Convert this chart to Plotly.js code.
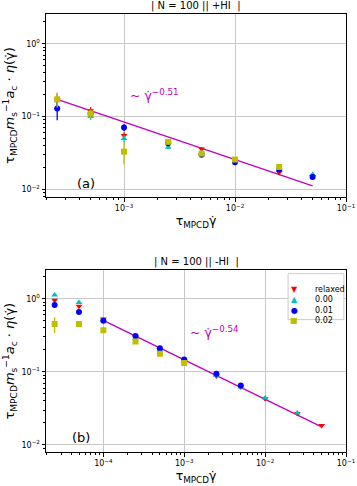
<!DOCTYPE html>
<html><head><meta charset="utf-8">
<script src="https://cdn.plot.ly/plotly-3.0.1.min.js"></script>
<style>body{margin:0;background:#fff}#plot{width:357px;height:486px}</style>
</head><body>
<div id="plot"></div>
<script>
// panel (a): +HI
const xA = [2.5e-4, 5e-4, 1e-3, 2.5e-3, 5e-3, 1e-2, 2.5e-2, 5e-2];
const aRelaxed = [0.17, 0.12, 0.055, 0.043, 0.036, 0.025, 0.017, 0.015];
const aRelaxedErr = [0.04, 0.015, 0.006, 0.003, 0.002, 0.001, 0.001, 0.001];
const a000 = [0.165, 0.10, 0.050, 0.038, 0.032, 0.025, 0.019, 0.016];
const a000Err = [0.03, 0.01, 0.006, 0.002, 0.002, 0.001, 0.001, 0.001];
const a001 = [0.129, 0.11, 0.071, 0.043, 0.030, 0.0235, 0.0187, 0.0148];
const a001Err = [0.04, 0.01, 0.008, 0.003, 0.002, 0.001, 0.001, 0.001];
const a002 = [0.173, 0.11, 0.033, 0.045, 0.031, 0.0257, 0.0203];
const a002Err = [0.04, 0.015, 0.011, 0.003, 0.002, 0.001, 0.001];
const fitAx = [2.5e-4, 5e-2];
const fitAy = [0.173, 0.0112];

// panel (b): -HI
const xB = [2.5e-5, 5e-5, 1e-4, 2.5e-4, 5e-4, 1e-3, 2.5e-3, 5e-3, 1e-2, 2.5e-2, 5e-2];
const bRelaxed = [0.95, 0.79, 0.53, 0.30, 0.20, 0.14, 0.088, 0.062, 0.043, 0.027, 0.0184];
const b000 = [1.12, 0.89, 0.51, 0.29, 0.20, 0.14, 0.09, 0.062, 0.044, 0.0274];
const b001 = [0.82, 0.66, 0.50, 0.31, 0.21, 0.147, 0.094, 0.065];
const b002 = [0.45, 0.45, 0.37, 0.26, 0.177, 0.132];
const b002Err = [0.11, 0.02, 0.02, 0.01, 0.01, 0.01];
const fitBx = [1e-4, 5e-2];
const fitBy = [0.505, 0.0177];

const seriesNames = ['relaxed', '0.00', '0.01', '0.02'];
const colors = ['#ff0000', '#00bfbf', '#0000ff', '#bfbf00'];
const symbols = ['triangle-down', 'triangle-up', 'circle', 'square'];
const legendGlyphs = ['▼', '▲', '●', '■'];
const magenta = '#bf00bf';

const yTickVals = [0.01, 0.1, 1];
const yTickText = ['10<sup>−2</sup>', '10<sup>−1</sup>', '10<sup>0</sup>'];
const xTickValsA = [1e-3, 1e-2, 1e-1];
const xTickTextA = ['10<sup>−3</sup>', '10<sup>−2</sup>', '10<sup>−1</sup>'];
const xTickValsB = [1e-4, 1e-3, 1e-2, 1e-1];
const xTickTextB = ['10<sup>−4</sup>', '10<sup>−3</sup>', '10<sup>−2</sup>', '10<sup>−1</sup>'];

const font = 'DejaVu Sans, sans-serif';

function pts(x, y, err, i, xa, ya) {
  return {
    x: x.slice(0, y.length), y: y, type: 'scatter', mode: 'markers',
    name: seriesNames[i], showlegend: false, xaxis: xa, yaxis: ya,
    marker: { color: colors[i], symbol: symbols[i], size: 6 },
    error_y: err ? { type: 'data', array: err, color: colors[i], width: 0, thickness: 1.3 } : { visible: false },
  };
}

const traces = [
  { x: fitAx, y: fitAy, type: 'scatter', mode: 'lines', line: { color: magenta, width: 1.3 }, showlegend: false, xaxis: 'x', yaxis: 'y' },
  pts(xA, aRelaxed, aRelaxedErr, 0, 'x', 'y'),
  pts(xA, a000, a000Err, 1, 'x', 'y'),
  pts(xA, a001, a001Err, 2, 'x', 'y'),
  pts(xA, a002, a002Err, 3, 'x', 'y'),
  { x: fitBx, y: fitBy, type: 'scatter', mode: 'lines', line: { color: magenta, width: 1.3 }, showlegend: false, xaxis: 'x2', yaxis: 'y2' },
  pts(xB, bRelaxed, null, 0, 'x2', 'y2'),
  pts(xB, b000, null, 1, 'x2', 'y2'),
  pts(xB, b001, null, 2, 'x2', 'y2'),
  pts(xB, b002, b002Err, 3, 'x2', 'y2'),
];

const xTitle = { text: 'τ<sub>MPCD</sub>γ̇', font: { family: font, size: 12.5, color: '#000' }, standoff: 4 };
const yTitle = { text: 'τ<sub>MPCD</sub><i>m</i><sub>s</sub><sup>−1</sup><i>a</i><sub>c</sub> · <i>η</i>(γ̇)', font: { family: font, size: 13, color: '#000' }, standoff: 3 };

function axis(extra) {
  return Object.assign({
    type: 'log', showline: true, mirror: true, linecolor: '#000', linewidth: 1,
    ticks: 'outside', ticklen: 3.5, tickcolor: '#000', tickmode: 'array',
    showgrid: true, gridcolor: '#c8c8c8', gridwidth: 1, zeroline: false,
    tickfont: { family: font, size: 8, color: '#000' },
    minor: { ticks: 'outside', ticklen: 2, tickcolor: '#000', dtick: 'D1', showgrid: false },
  }, extra);
}

// hand-built legend (matplotlib-style compact box) for panel (b)
const legendRows = [0.932, 0.874, 0.816, 0.761];
const legendNotes = [];
seriesNames.forEach(function (name, i) {
  legendNotes.push({ text: legendGlyphs[i], xref: 'x2 domain', yref: 'y2 domain', x: 0.845, y: legendRows[i], showarrow: false, font: { family: font, size: 8, color: colors[i] } });
  legendNotes.push({ text: name, xref: 'x2 domain', yref: 'y2 domain', x: 0.89, y: legendRows[i], xanchor: 'left', showarrow: false, font: { family: font, size: 8, color: '#000' } });
});

const layout = {
  width: 357, height: 486,
  margin: { l: 46, r: 11, t: 14, b: 34 },
  paper_bgcolor: '#fff', plot_bgcolor: '#fff',
  font: { family: font, color: '#000' },
  showlegend: false,
  xaxis: axis({ domain: [0, 1], anchor: 'y', range: [-3.703, -1], tickvals: xTickValsA, ticktext: xTickTextA, title: xTitle }),
  yaxis: axis({ domain: [0.582, 1], anchor: 'x', range: [-2.106, 0.41], tickvals: yTickVals, ticktext: yTickText, title: yTitle }),
  xaxis2: axis({ domain: [0, 1], anchor: 'y2', range: [-4.709, -1], tickvals: xTickValsB, ticktext: xTickTextB, title: xTitle }),
  yaxis2: axis({ domain: [0, 0.4146], anchor: 'x2', range: [-2.096, 0.387], tickvals: yTickVals, ticktext: yTickText, title: yTitle }),
  shapes: [
    { type: 'rect', xref: 'x2 domain', yref: 'y2 domain', x0: 0.807, x1: 0.993, y0: 0.729, y1: 0.982,
      line: { color: '#cccccc', width: 1 }, fillcolor: 'rgba(255,255,255,0.85)', layer: 'above' },
  ],
  annotations: [
    { text: '| N = 100 || +HI  |', xref: 'x domain', yref: 'y domain', x: 0.5, y: 1, yanchor: 'bottom', yshift: 0, showarrow: false, font: { family: font, size: 10, color: '#000' } },
    { text: '| N = 100 || -HI  |', xref: 'x2 domain', yref: 'y2 domain', x: 0.5, y: 1, yanchor: 'bottom', yshift: 0, showarrow: false, font: { family: font, size: 10, color: '#000' } },
    { text: '(a)', xref: 'x domain', yref: 'y domain', x: 0.097, y: 0.025, showarrow: false, font: { family: font, size: 13, color: '#000' } },
    { text: '(b)', xref: 'x2 domain', yref: 'y2 domain', x: 0.08, y: 0.03, showarrow: false, font: { family: font, size: 13, color: '#000' } },
    { text: '~ γ̇<sup>−0.51</sup>', xref: 'x domain', yref: 'y domain', x: 0.36, y: 0.56, showarrow: false, font: { family: font, size: 12.5, color: magenta } },
    { text: '~ γ̇<sup>−0.54</sup>', xref: 'x2 domain', yref: 'y2 domain', x: 0.56, y: 0.66, showarrow: false, font: { family: font, size: 12.5, color: magenta } },
  ].concat(legendNotes),
};

Plotly.newPlot('plot', traces, layout, { staticPlot: true, displayModeBar: false });
</script>
</body></html>
